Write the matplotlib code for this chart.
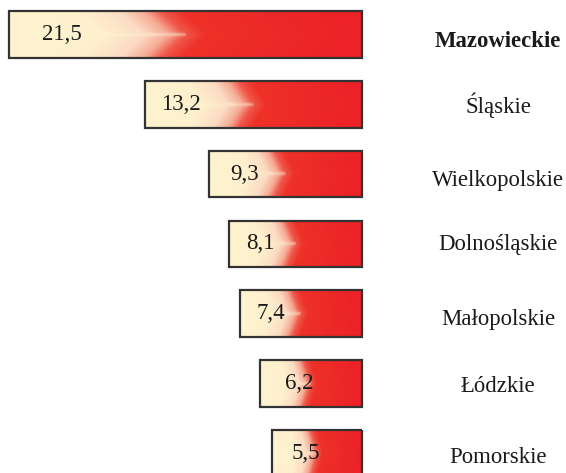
import numpy as np
import matplotlib.pyplot as plt
from matplotlib.colors import LinearSegmentedColormap

regions = ["Mazowieckie", "Śląskie", "Wielkopolskie", "Dolnośląskie",
           "Małopolskie", "Łódzkie", "Pomorskie"]
values = [21.5, 13.2, 9.3, 8.1, 7.4, 6.2, 5.5]
value_text = ["21,5", "13,2", "9,3", "8,1", "7,4", "6,2", "5,5"]
# where the value labels sit (in data units, measured from the bar end)
value_x = [18.3, 11.0, 7.15, 6.2, 5.55, 3.8, 3.4]
# small vertical nudges of the region names (rows)
name_dy = [0.10, 0.02, 0.09, 0.01, 0.08, 0.04, 0.06]

plt.rcParams['font.family'] = ['Liberation Serif', 'DejaVu Serif']

fig = plt.figure(figsize=(5.66, 4.73), dpi=100)
ax = fig.add_axes([0, 0, 1, 1])
ax.axis('off')

cmap = LinearSegmentedColormap.from_list(
    "cr", [(0.0, "#fff4d0"), (0.26, "#fef0cd"), (0.38, "#fcdcc4"),
           (0.45, "#f6ab95"), (0.50, "#f0574a"), (0.56, "#ee3129"),
           (1.0, "#ec2226")])

tx = np.linspace(0, 1, 400)
ty = np.linspace(-1, 1, 80)
T, V = np.meshgrid(tx, ty)
S = T + 0.07 * np.abs(V) - 0.035 * np.exp(-(V / 0.07) ** 2) * (T < 0.5)
S = np.clip(S, 0, 1)

h = 0.666
ypos = np.arange(len(values))
bars = ax.barh(ypos, values, height=h, left=0, facecolor="none",
               edgecolor="#333333", linewidth=1.6, zorder=3)

for i, (b, v) in enumerate(zip(bars, values)):
    im = ax.imshow(S, cmap=cmap, vmin=0, vmax=1, aspect='auto',
                   extent=(v, 0, i + h / 2, i - h / 2), zorder=2,
                   interpolation='bilinear')
    im.set_clip_path(b)
    ax.text(value_x[i], i, value_text[i], ha='center', va='center',
            fontsize=16.5, color="#1a1a1a", zorder=4)
    ax.text(-8.3, i + name_dy[i], regions[i], ha='center', va='center',
            fontsize=16.4, color="#1a1a1a",
            fontweight='bold' if i == 0 else 'normal')

ax.set_xlim(362 / 16.42, -(566 - 362) / 16.42)
ax.set_ylim((473 - 34.5) / 69.8, -34.5 / 69.8)

fig.savefig("out.png", dpi=100)
